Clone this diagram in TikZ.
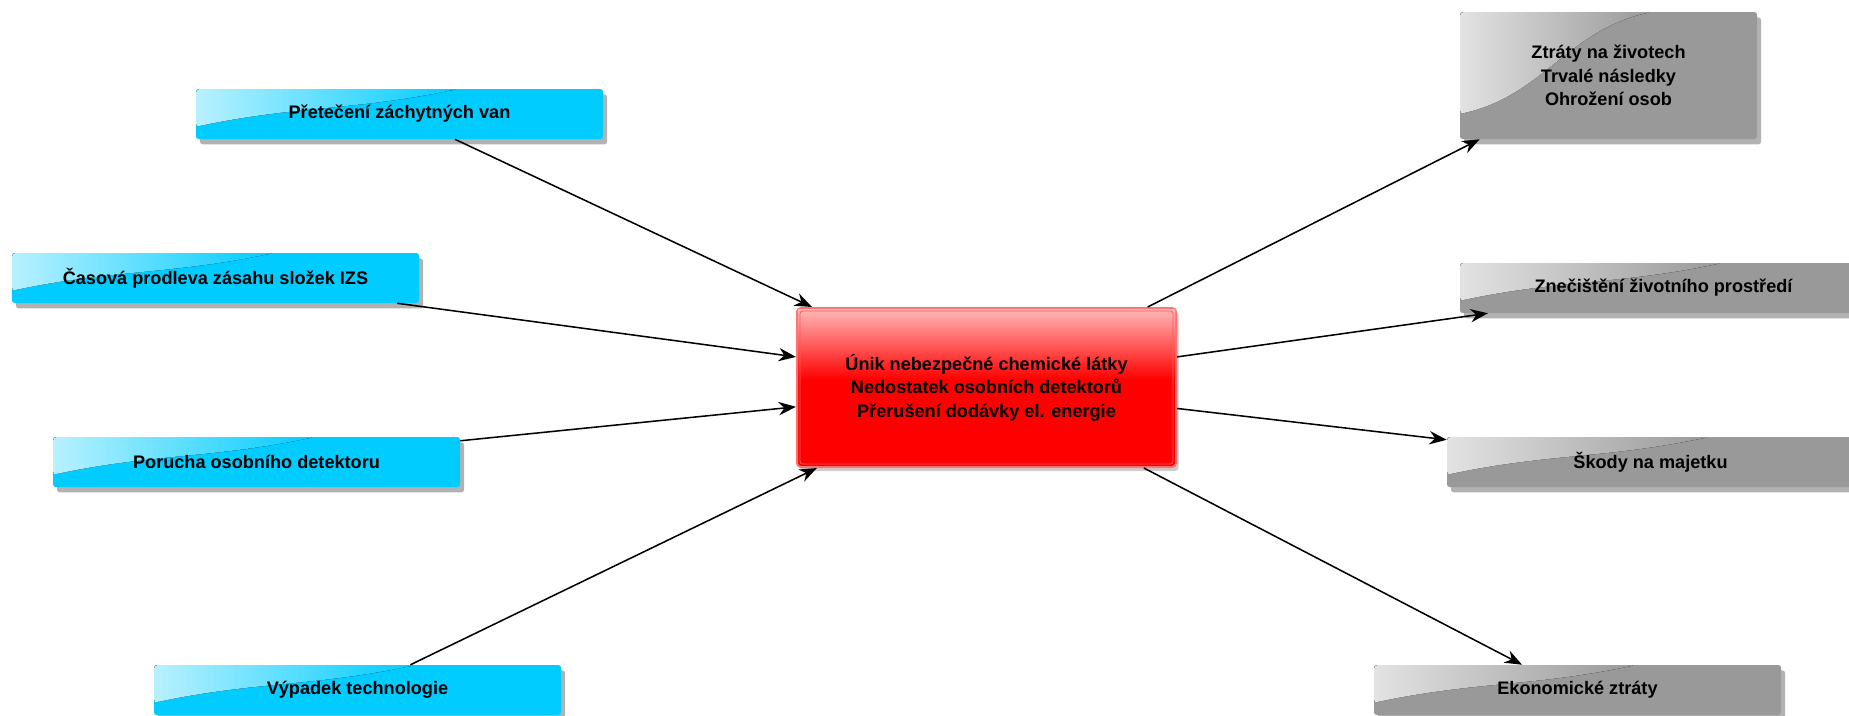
\documentclass[tikz,border=0pt]{standalone}
\usepackage{fontspec}
\setmainfont{Liberation Sans}
\usetikzlibrary{calc,arrows.meta,shadows}
\definecolor{cyanbox}{HTML}{00CCFF}
\definecolor{graybox}{HTML}{999999}
\definecolor{redbox}{HTML}{FF0000}
\newcommand\glossbox[3]{%
  \fill[left color=white!72!#2, right color=#2, rounded corners=2pt]
    ($(#1.north west)+(0.5,0.5)$) -- ($(#1.north west)!0.64!(#1.north east)+(0,0.5)$)
    to[out=192,in=12] ($(#1.north west)!#3!(#1.south west)+(0.5,0)$) -- cycle;}
\newcommand\boxfont{\bfseries\fontsize{13.6pt}{17.6pt}\selectfont}
\begin{document}
\begin{tikzpicture}[x=0.75pt,y=-0.75pt,
  box/.style={rectangle, rounded corners=2pt, inner sep=0pt, align=center,
    minimum width=305.25pt, minimum height=37.5pt,
    drop shadow={shadow xshift=3pt, shadow yshift=-4pt, opacity=0.3, fill=black}},
  bluebox/.style={box, fill=cyanbox},
  greybox/.style={box, fill=graybox},
  lbl/.style={align=center, font=\boxfont, text=black},
  arr/.style={draw=black, line width=1.15pt, -{Stealth[length=13pt,width=10pt]}}]
\useasboundingbox (0,0) rectangle (1849,715);
\clip (0,0) rectangle (1849,715);
% left causes
\node[bluebox] (L1) at (399.5,114) {};
\node[bluebox] (L2) at (215.5,278) {};
\node[bluebox] (L3) at (256.5,462) {};
\node[bluebox] (L4) at (357.5,690) {};
% right consequences
\node[greybox, minimum width=222.75pt, minimum height=95.25pt] (R1) at (1608.5,75.5) {};
\node[greybox] (R2) at (1663.5,288) {};
\node[greybox] (R3) at (1650.5,462) {};
\node[greybox] (R4) at (1577.5,690) {};
% glosses
\foreach \b in {L1,L2,L3,L4}{\glossbox{\b}{cyanbox}{0.75}}
\foreach \b in {R2,R3,R4}{\glossbox{\b}{graybox}{0.75}}
\glossbox{R1}{graybox}{0.8}
% labels
\node[lbl] (tL1) at (L1.center) {Přetečení záchytných van};
\node[lbl] (tL2) at (L2.center) {Časová prodleva zásahu složek IZS};
\node[lbl] (tL3) at (L3.center) {Porucha osobního detektoru};
\node[lbl] (tL4) at (L4.center) {Výpadek technologie};
\node[lbl] (tR1) at (R1.center) {Ztráty na životech\\Trvalé následky\\Ohrožení osob};
\node[lbl] (tR2) at (R2.center) {Znečištění životního prostředí};
\node[lbl] (tR3) at (R3.center) {Škody na majetku};
\node[lbl] (tR4) at (R4.center) {Ekonomické ztráty};
% centre
\node[rectangle, rounded corners=3pt, minimum width=284.25pt, minimum height=119.25pt,
  fill=redbox, draw=red!55!white, line width=1.5pt,
  drop shadow={shadow xshift=2pt, shadow yshift=-3pt, opacity=0.2, fill=black}] (C) at (986.5,387.5) {};
\fill[top color=red!28!white, bottom color=redbox] ($(C.north west)+(2,2)$) rectangle ($(C.east)+(-2,-8)$);
\draw[red!65!white, line width=0.6pt, rounded corners=2pt] ($(C.north west)+(4,4)$) rectangle ($(C.south east)+(-4,-4)$);
\node[lbl] (CT) at (C.center)
  {Únik nebezpečné chemické látky\\Nedostatek osobních detektorů\\Přerušení dodávky el. energie};
% connectors in
\draw[arr] ($(L1.south west)!0.636!(L1.south east)$) -- ($(C.north west)!0.042!(C.north east)$);
\draw[arr] ($(L2.south west)!0.946!(L2.south east)$) -- ($(C.north west)!0.31!(C.south west)$);
\draw[arr] ($(L3.north east)!0.08!(L3.south east)$) -- ($(C.north west)!0.62!(C.south west)$);
\draw[arr] ($(L4.north west)!0.63!(L4.north east)$) -- ($(C.south west)!0.055!(C.south east)$);
% connectors out
\draw[arr] ($(C.north west)!0.923!(C.north east)$) -- ($(R1.south west)!0.067!(R1.south east)$);
\draw[arr] ($(C.north east)!0.31!(C.south east)$) -- ($(R2.south west)!0.069!(R2.south east)$);
\draw[arr] ($(C.north east)!0.63!(C.south east)$) -- ($(R3.north west)!0.06!(R3.south west)$);
\draw[arr] ($(C.south west)!0.913!(C.south east)$) -- ($(R4.north west)!0.364!(R4.north east)$);
\end{tikzpicture}
\end{document}
